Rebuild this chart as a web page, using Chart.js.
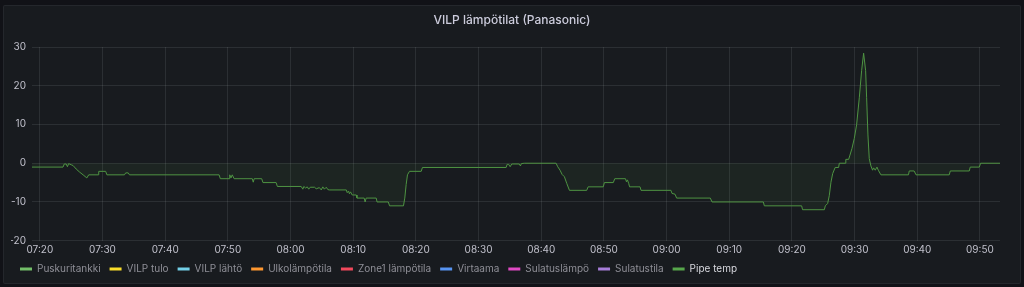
<!DOCTYPE html>
<html>
<head>
<meta charset="utf-8">
<script src="https://cdn.jsdelivr.net/npm/chart.js@4.4.1/dist/chart.umd.min.js"></script>
<style>
  html, body { margin: 0; padding: 0; background: #111217; }
  #panel {
    position: absolute; left: 3px; top: 5px; width: 1016px; height: 277px;
    background: #181b1f; border: 1px solid rgba(204, 204, 220, 0.07); border-radius: 2px;
  }
  #wrap { position: absolute; left: 0; top: 0; width: 1024px; height: 287px; }
</style>
</head>
<body>
<div id="panel"></div>
<div id="wrap"><canvas id="lampoChart" width="1024" height="287"></canvas></div>
<script>
const chartTitle = 'VILP lämpötilat (Panasonic)';

const seriesNames = ['Puskuritankki', 'VILP tulo', 'VILP lähtö', 'Ulkolämpötila', 'Zone1 lämpötila',
  'Virtaama', 'Sulatuslämpö', 'Sulatustila', 'Pipe temp'];
const seriesColors = ['#73BF69', '#FADE2A', '#73D0E8', '#FF9830', '#F2495C',
  '#5794F2', '#E04AC4', '#A77ED9', '#56A64B'];

const xTickLabels = ['07:20', '07:30', '07:40', '07:50', '08:00', '08:10', '08:20', '08:30',
  '08:40', '08:50', '09:00', '09:10', '09:20', '09:30', '09:40', '09:50'];
const yTicks = [-20, -10, 0, 10, 20, 30];

// minutes after 07:00
const pipeTimes = [18.7, 23.7, 23.9, 24.2, 24.4, 24.6, 25.0, 25.3, 25.8, 26.35, 26.9, 27.5, 27.8,
  29.3, 29.4, 30.5, 30.7, 33.5, 33.7, 34.1, 34.3, 48.6, 48.8, 50.2, 50.3, 50.5, 50.7, 51.0,
  53.9, 54.05, 54.2, 55.4, 55.6, 57.7, 57.9, 61.7, 61.96, 62.12, 62.4, 62.67, 62.9, 63.14,
  63.83, 64.1, 64.6, 64.9, 65.15, 65.4, 65.7, 65.95, 66.2, 68.9, 69.04, 69.25, 69.4, 69.57,
  69.84, 70.5, 70.6, 71.75, 71.9, 72.07, 73.67, 73.8, 75.6, 75.8, 78.02, 78.23, 78.45, 78.66,
  78.98, 80.85, 81.05, 94.4, 94.56, 94.8, 95.04, 95.3, 96.5, 96.68, 96.84, 97.3, 102.37,
  102.63, 103.0, 103.33, 103.7, 104.07, 104.5, 107.26, 107.48, 109.9, 110.08, 111.5, 111.73,
  113.44, 113.6, 113.75, 113.95, 114.1, 115.77, 115.92, 120.7, 120.86, 121.35, 121.6, 126.98,
  127.25, 135.44, 135.6, 141.55, 141.7, 145.17, 145.33, 145.7, 145.96, 146.23, 146.5, 146.9,
  147.45, 147.56, 148.5, 148.6, 149.05, 149.26, 149.58, 149.95, 150.32, 150.75, 151.12, 151.44,
  151.76, 151.92, 152.13, 152.34, 152.6, 152.87, 153.03, 153.3, 153.57, 153.78, 154.2, 158.6,
  158.72, 159.5, 159.8, 165.1, 165.27, 168.3, 168.45, 169.9, 170.1, 173.2];
const pipeTemp = [-1, -1, -0.2, -0.2, -0.9, -0.1, -0.4, -0.6, -1.5, -2.3, -3.0, -3.8, -3.0,
  -3.0, -2.1, -2.1, -3.0, -3.0, -2.5, -2.5, -3.0, -3.0, -4.0, -4.0, -3.0, -3.8, -3.0, -4.0,
  -4.0, -4.9, -4.0, -4.0, -5.0, -5.0, -6.0, -6.0, -6.7, -6.0, -6.4, -6.1, -6.7, -6.2,
  -6.2, -6.6, -6.3, -6.9, -6.1, -6.7, -6.2, -6.8, -6.9, -6.9, -7.6, -7.2, -7.9, -7.4,
  -8.2, -8.2, -9.0, -9.0, -10, -9.0, -9.0, -10, -10, -11, -11, -9, -5.5, -3,
  -2.1, -2.1, -1.1, -1.1, -0.3, -0.3, -0.9, -0.2, -0.2, -0.7, -0.1, 0, 0,
  -0.9, -1.8, -2.9, -3.5, -5.2, -7.0, -7.0, -6.1, -6.1, -5.0, -5.0, -4.0,
  -4.0, -4.8, -4.3, -5.2, -6.1, -6.1, -7.0, -7.0, -7.8, -8.0, -9.0, -9.0,
  -10, -10, -11, -11, -12, -12, -11, -10.4, -8.4, -4.9, -2.7, -1.1,
  -1.1, 0, 0, 1, 1, 2.1, 3.8, 6.4, 9.9, 16.9, 23.9, 28.4,
  23.9, 16.9, 7.3, 1.2, -0.7, -1.8, -1.2, -1.8, -1.0, -1.8, -3, -3,
  -2, -2, -3, -3, -2, -2, -1, -1, 0, 0];

function toMinutes(label) {
  const [h, m] = label.split(':').map(Number);
  return (h - 7) * 60 + m;
}

const datasets = seriesNames.map((name, i) => {
  const isPipe = name === 'Pipe temp';
  return {
    label: name,
    data: isPipe ? pipeTimes.map((t, j) => ({ x: t, y: pipeTemp[j] })) : [],
    borderColor: isPipe ? '#4f9443' : seriesColors[i],
    backgroundColor: isPipe ? 'rgba(86, 166, 75, 0.08)' : seriesColors[i],
    borderWidth: 1,
    pointRadius: 0,
    tension: 0,
    fill: isPipe ? 'origin' : false
  };
});

const titlePlugin = {
  id: 'panelTitle',
  afterDraw(chart) {
    const ctx = chart.ctx;
    ctx.save();
    ctx.font = '500 12px Inter';
    ctx.fillStyle = '#ccccdc';
    ctx.textAlign = 'center';
    ctx.textBaseline = 'middle';
    ctx.fillText(chartTitle, 512, 20);
    ctx.restore();
  }
};

const gridColor = 'rgba(240, 250, 255, 0.09)';
const tickColor = '#c0c0cb';

new Chart(document.getElementById('lampoChart').getContext('2d'), {
  type: 'line',
  data: { datasets },
  plugins: [titlePlugin],
  options: {
    responsive: false,
    animation: false,
    layout: { padding: { top: 47, right: 24, bottom: 3, left: 11 } },
    scales: {
      x: {
        type: 'linear',
        min: 18.75,
        max: 173.2,
        afterBuildTicks: (scale) => {
          scale.ticks = xTickLabels.map(l => ({ value: toMinutes(l) }));
        },
        afterFit: (scale) => { scale.height = 14.3; },
        grid: { color: gridColor, drawTicks: false },
        border: { display: false },
        ticks: {
          color: tickColor,
          font: { family: 'Inter', size: 10 },
          padding: 3,
          maxRotation: 0,
          autoSkip: false,
          callback: (v, i) => xTickLabels[i]
        }
      },
      y: {
        min: yTicks[0],
        max: yTicks[yTicks.length - 1],
        afterBuildTicks: (scale) => {
          scale.ticks = yTicks.map(v => ({ value: v }));
        },
        afterFit: (scale) => { scale.width = 21; },
        grid: { color: gridColor, drawTicks: false },
        border: { display: false },
        ticks: {
          color: tickColor,
          font: { family: 'Inter', size: 10 },
          padding: 6
        }
      }
    },
    plugins: {
      title: { display: false },
      tooltip: { enabled: false },
      legend: {
        position: 'bottom',
        align: 'start',
        labels: {
          boxWidth: 12,
          boxHeight: 3,
          padding: 9,
          font: { family: 'Inter', size: 10 },
          generateLabels: (chart) => chart.data.datasets.map((ds, i) => ({
            text: ds.label,
            fillStyle: seriesColors[i],
            strokeStyle: seriesColors[i],
            lineWidth: 0,
            hidden: false,
            datasetIndex: i,
            fontColor: ds.label === 'Pipe temp' ? '#d8d9df' : '#8e8e96'
          }))
        }
      }
    }
  }
});
</script>
</body>
</html>
